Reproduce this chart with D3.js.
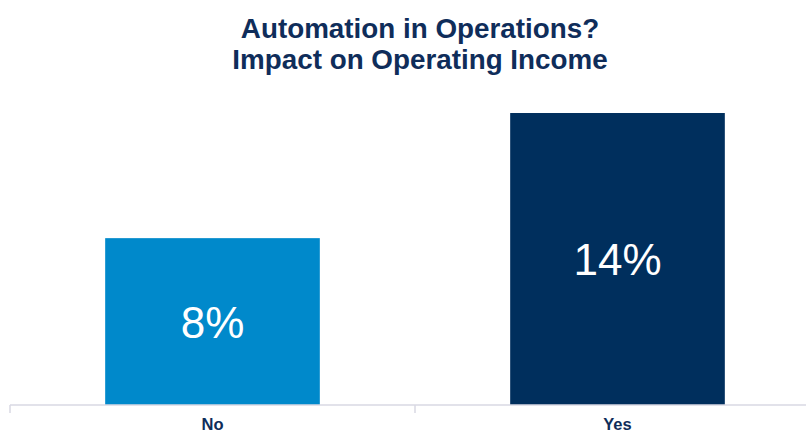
<!DOCTYPE html>
<html><head><meta charset="utf-8">
<script src="https://cdn.jsdelivr.net/npm/d3@7"></script>
<style>body{margin:0;background:#fff;}svg{display:block;}</style>
</head><body>
<svg id="chart" width="806" height="431"></svg>
<script>
const categories = ["No", "Yes"];
const values = [8, 14];
const valueLabels = ["8%", "14%"];
const barColors = ["#0089CB", "#002F5D"];
const titleLines = ["Automation in Operations?", "Impact on Operating Income"];

const svg = d3.select("#chart");
const font = "'Liberation Sans', Arial, sans-serif";
const navy = "#0F2D5A";

const x = d3.scaleBand().domain(categories).range([10, 820]).paddingInner(0.47).paddingOuter(0.235);
const y = d3.scaleLinear().domain([0, 16]).range([405, 71.3]);

svg.selectAll("text.title").data(titleLines).join("text")
  .attr("class", "title")
  .attr("x", 420).attr("y", (d, i) => 38 + i * 31)
  .attr("text-anchor", "middle")
  .attr("font-family", font).attr("font-weight", "bold").attr("font-size", 27.8)
  .attr("fill", navy).text(d => d);

svg.selectAll("rect.bar").data(values).join("rect")
  .attr("class", "bar")
  .attr("x", (d, i) => x(categories[i]))
  .attr("y", d => y(d))
  .attr("width", x.bandwidth())
  .attr("height", d => y(0) - y(d))
  .attr("fill", (d, i) => barColors[i]);

svg.selectAll("text.val").data(values).join("text")
  .attr("class", "val")
  .attr("x", (d, i) => x(categories[i]) + x.bandwidth() / 2)
  .attr("y", d => (y(d) + y(0)) / 2 + 16)
  .attr("text-anchor", "middle")
  .attr("font-family", font).attr("font-size", 44)
  .attr("fill", "#ffffff").text((d, i) => valueLabels[i]);

// axis
const axisG = svg.append("g").attr("transform", "translate(0,405)");
axisG.append("line").attr("x1", 10).attr("x2", 806).attr("y1", 0).attr("y2", 0)
  .attr("stroke", "#D9D9E3").attr("stroke-width", 1.5);
const tickXs = [x.range()[0], (x.range()[0] + x.range()[1]) / 2, x.range()[1]];
axisG.selectAll("line.tick").data(tickXs).join("line")
  .attr("class", "tick")
  .attr("x1", d => d).attr("x2", d => d).attr("y1", 0).attr("y2", 8)
  .attr("stroke", "#D9D9E3").attr("stroke-width", 1.5);

svg.selectAll("text.cat").data(categories).join("text")
  .attr("class", "cat")
  .attr("x", d => x(d) + x.bandwidth() / 2)
  .attr("y", 429.5)
  .attr("text-anchor", "middle")
  .attr("font-family", font).attr("font-weight", "bold").attr("font-size", 16.5)
  .attr("fill", navy).text(d => d);
</script>
</body></html>
